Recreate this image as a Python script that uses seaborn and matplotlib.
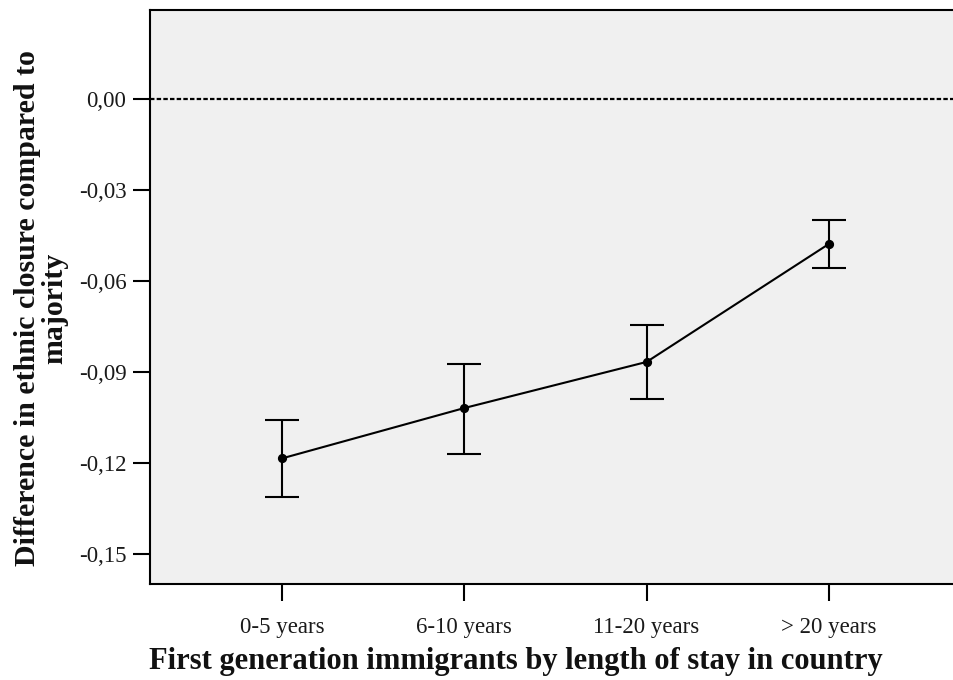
import matplotlib
matplotlib.use("Agg")
import matplotlib.pyplot as plt
import seaborn as sns
import pandas as pd

# Mean difference in ethnic closure with 95% CI, by length of stay
categories = ["0-5 years", "6-10 years", "11-20 years", "> 20 years"]
means = [-0.1185, -0.1019, -0.0867, -0.0478]
ci_low = [-0.1312, -0.1170, -0.0989, -0.0557]
ci_high = [-0.1058, -0.0874, -0.0745, -0.0399]
ytick_values = [0.00, -0.03, -0.06, -0.09, -0.12, -0.15]
ytick_labels = ["0,00", "-0,03", "-0,06", "-0,09", "-0,12", "-0,15"]

sns.set_theme(style="ticks")
plt.rcParams["font.family"] = ["Liberation Serif", "DejaVu Serif"]

df = pd.DataFrame({"group": categories, "mean": means})

fig = plt.figure(figsize=(9.54, 6.8), dpi=100)
ax = fig.add_axes([150 / 954, 1 - 584 / 680, 1 - 150 / 954, (584 - 10) / 680])
ax.set_facecolor("#f0f0f0")

sns.pointplot(data=df, x="group", y="mean", order=categories, errorbar=None,
              color="black", markers="o", linestyles="-", ax=ax,
              markersize=5.5, linewidth=1.5)

xs = list(range(len(categories)))
yerr = [[m - lo for m, lo in zip(means, ci_low)],
        [hi - m for m, hi in zip(means, ci_high)]]
ax.errorbar(xs, means, yerr=yerr, fmt="none", ecolor="black",
            elinewidth=1.5, capsize=12, capthick=1.5, zorder=3)

ax.axhline(0, color="black", linewidth=1.6, linestyle=(0, (2, 1)), zorder=1)

ax.set_xlim(-0.724, 3.686)
ax.set_ylim(-0.1599, 0.0293)
ax.set_yticks(ytick_values)
ax.set_yticklabels(ytick_labels)

for side in ("left", "bottom", "top"):
    ax.spines[side].set_visible(True)
    ax.spines[side].set_color("black")
    ax.spines[side].set_linewidth(1.5)
ax.spines["right"].set_visible(False)

ax.tick_params(axis="both", direction="out", length=12, width=1.5,
               color="black", labelsize=16.5, labelcolor="#1a1a1a")
ax.tick_params(axis="y", pad=5)
ax.tick_params(axis="x", pad=12)

ax.set_xlabel("First generation immigrants by length of stay in country",
              fontsize=22, fontweight="bold", color="#111111")
ax.set_ylabel("Difference in ethnic closure compared to\nmajority",
              fontsize=21.5, fontweight="bold", color="#111111",
              linespacing=1.0)
ax.xaxis.set_label_coords(0.455, -0.11)
ax.yaxis.set_label_coords(-0.102, 0.481)

fig.savefig("out.png", dpi=100)
